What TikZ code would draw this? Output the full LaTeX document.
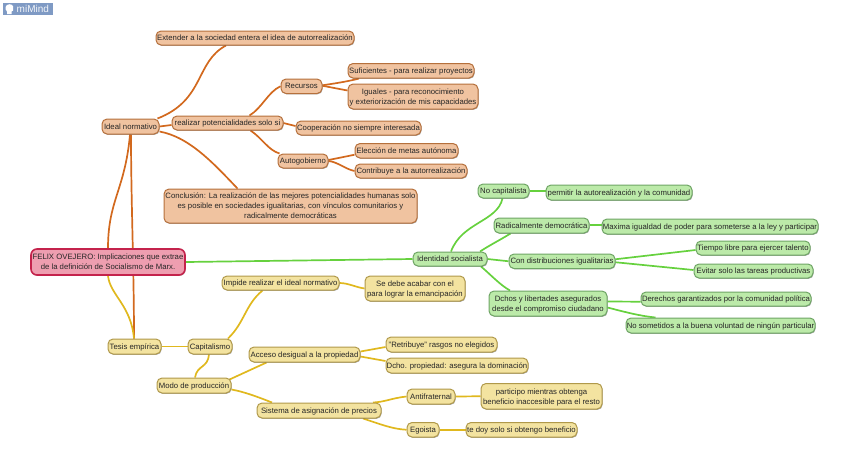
\documentclass[tikz,border=0pt]{standalone}
\usepackage{fontspec}
\setmainfont{Liberation Sans}
\usetikzlibrary{shadows,backgrounds,positioning}
\definecolor{oLine}{HTML}{D2691E}\definecolor{oFill}{HTML}{F0C3A0}\definecolor{oEdge}{HTML}{B5703C}
\definecolor{yLine}{HTML}{E0B81E}\definecolor{yFill}{HTML}{F3E3A0}\definecolor{yEdge}{HTML}{B0994A}
\definecolor{gLine}{HTML}{66D13E}\definecolor{gFill}{HTML}{BCEAA9}\definecolor{gEdge}{HTML}{6FA565}
\definecolor{rFill}{HTML}{EE9EB0}\definecolor{rEdge}{HTML}{C4234C}
\definecolor{logoBg}{HTML}{7F9AC4}
\tikzset{
 nd/.style={rectangle,rounded corners=5pt,inner sep=0pt,line width=1pt,text=black!85,
   font=\fontsize{7.75}{10}\selectfont,drop shadow={shadow xshift=.6pt,shadow yshift=-.8pt,opacity=.35,fill=black}},
 onode/.style={nd,draw=oEdge,fill=oFill},
 ynode/.style={nd,draw=yEdge,fill=yFill},
 gnode/.style={nd,draw=gEdge,fill=gFill},
 rnode/.style={nd,draw=rEdge,fill=rFill,line width=1.6pt,rounded corners=6pt},
 ol/.style={draw=oLine,line width=1.7pt},
 yl/.style={draw=yLine,line width=1.7pt},
 gl/.style={draw=gLine,line width=1.7pt},
}
% \B{style}{name}{x0}{y0}{x1}{y1}{text}
\newcommand{\B}[7]{\node[#1,minimum width={#5pt-#3pt},minimum height={#6pt-#4pt}] (#2) at ({(#3+#5)/2},{(#4+#6)/2}) {\raisebox{-2.74pt}[0pt][0pt]{\begin{tabular}{@{}c@{}}#7\end{tabular}}};}
\begin{document}
\begin{tikzpicture}[x=1pt,y=-1pt]
\useasboundingbox (0,0) rectangle (848,467);
% logo
\node[fill=logoBg,minimum width=50pt,minimum height=12.5pt,inner sep=0pt] (logo) at (28,9.2) {};
\fill[white] (7,14) -- (7,11.5) .. controls (4.5,9.5) and (5,4.2) .. (9.5,4.2) .. controls (13.5,4.2) and (14,8) .. (13.2,10.5) -- (11.5,11.5) -- (11.5,14) -- cycle;
\node[text=white!90!logoBg,font=\fontsize{10}{10}\selectfont,anchor=west,inner sep=0pt] (logotext) at (16.5,9.3) {miMind};
% root
\B{rnode}{felix}{31}{249}{185}{275}{FELIX OVEJERO: Implicaciones que extrae\\de la definición de Socialismo de Marx.}
% orange
\B{onode}{extender}{156}{31}{354}{45}{Extender a la sociedad entera el idea de autorrealización}
\B{onode}{ideal}{102}{119}{159}{134}{Ideal normativo}
\B{onode}{realizar}{172}{116}{283}{130}{realizar potencialidades solo si}
\B{onode}{recursos}{281}{79}{322}{93.5}{Recursos}
\B{onode}{suficientes}{348}{63.5}{474}{78}{Suficientes - para realizar proyectos}
\B{onode}{iguales}{348}{84}{478}{109}{Iguales - para reconocimiento\\y exteriorización de mis capacidades}
\B{onode}{cooperacion}{296}{121}{421}{135}{Cooperación no siempre interesada}
\B{onode}{autogobierno}{278}{154}{328}{168}{Autogobierno}
\B{onode}{eleccion}{355}{143.5}{458}{158}{Elección de metas autónoma}
\B{onode}{contribuye}{355}{164}{467}{178}{Contribuye a la autorrealización}
\B{onode}{conclusion}{164}{189}{417}{223}{Conclusión: La realización de las mejores potencialidades humanas solo\\es posible en sociedades igualitarias, con vínculos comunitarios y\\radicalmente democráticas}
% yellow
\B{ynode}{tesis}{108}{339}{161}{354}{Tesis empírica}
\B{ynode}{capitalismo}{188}{339}{232}{354}{Capitalismo}
\B{ynode}{impide}{222}{276}{339}{290}{Impide realizar el ideal normativo}
\B{ynode}{sedebe}{365}{276}{465}{301}{Se debe acabar con el\\para lograr la emancipación}
\B{ynode}{modo}{157}{378}{231}{393}{Modo de producción}
\B{ynode}{acceso}{249}{347}{360}{362}{Acceso desigual a la propiedad}
\B{ynode}{sistema}{257}{403}{381}{418}{Sistema de asignación de precios}
\B{ynode}{retribuye}{386}{337}{497}{352}{"Retribuye" rasgos no elegidos}
\B{ynode}{dcho}{386}{358}{528}{373}{Dcho. propiedad: asegura la dominación}
\B{ynode}{antifraternal}{407}{389}{455}{404}{Antifraternal}
\B{ynode}{participo}{481}{383.5}{602}{409}{participo mientras obtenga\\beneficio inaccesible para el resto}
\B{ynode}{egoista}{407}{422.5}{439}{437}{Egoista}
\B{ynode}{tedoy}{466}{422.5}{577}{437}{te doy solo si obtengo beneficio}
% green
\B{gnode}{identidad}{413}{252}{487}{266}{Identidad socialista}
\B{gnode}{nocap}{478}{184}{529}{198}{No capitalista}
\B{gnode}{permitir}{546}{185}{692}{200}{permitir la autorealización y la comunidad}
\B{gnode}{radical}{494}{218}{589}{233}{Radicalmente democrática}
\B{gnode}{maxima}{602}{219}{818}{234}{Maxima igualdad de poder para someterse a la ley y participar}
\B{gnode}{condist}{509}{254}{615}{268.5}{Con distribuciones igualitarias}
\B{gnode}{tiempo}{696}{241}{810}{255}{Tiempo libre para ejercer talento}
\B{gnode}{evitar}{694}{264}{813}{278}{Evitar solo las tareas productivas}
\B{gnode}{dchos}{489}{291}{607}{316}{Dchos y libertades asegurados\\desde el compromiso ciudadano}
\B{gnode}{derechos}{641}{292}{811}{306}{Derechos garantizados por la comunidad política}
\B{gnode}{nosometidos}{626}{318}{815}{333}{No sometidos a la buena voluntad de ningún particular}
\begin{scope}[on background layer]
% orange connectors
\draw[ol] (felix.north) .. controls (108,200) and (125,190) .. ([xshift=-0.5pt]ideal.south);
\draw[ol] ([xshift=-0.5pt]tesis.north) .. controls (134,270) and (131,200) .. ([xshift=0.5pt]ideal.south);
\draw[ol] ([xshift=-2pt]ideal.north east) .. controls (205,100) and (195,62) .. ([xshift=-29pt]extender.south);
\draw[ol] (ideal.east) -- ([yshift=-2pt]realizar.west);
\draw[ol] ([yshift=3pt]ideal.south east) .. controls (190,137) and (215,165) .. ([xshift=-53pt]conclusion.north);
\draw[ol] ([xshift=22pt]realizar.north) .. controls (262,108) and (268,92) .. (recursos.west);
\draw[ol] ([xshift=23pt]realizar.south) .. controls (262,138) and (268,150) .. ([xshift=2pt]autogobierno.north west);
\draw[ol] (realizar.east) -- ([yshift=2pt]cooperacion.west);
\draw[ol] ([yshift=1pt]recursos.east) .. controls (335,83.5) and (350,81) .. ([xshift=-52pt]suficientes.south);
\draw[ol] ([yshift=0.5pt]recursos.east) -- ([yshift=6pt]iguales.west);
\draw[ol] ([yshift=1pt]autogobierno.east) -- ([yshift=-4pt]eleccion.west);
\draw[ol] (autogobierno.east) .. controls (338,162) and (345,169) .. (contribuye.west);
% yellow connectors
\draw[yl] (felix.south) .. controls (110,295) and (131,305) .. ([xshift=-0.5pt]tesis.north);
\draw[yl] (tesis.east) -- (capitalismo.west);
\draw[yl] ([xshift=18pt]capitalismo.north) .. controls (245,322) and (245,305) .. ([xshift=-18pt]impide.south);
\draw[yl] ([xshift=-1pt]capitalismo.south) .. controls (208,368) and (197,365) .. ([xshift=1pt]modo.north);
\draw[yl] (impide.east) .. controls (348,283) and (355,287) .. (sedebe.west);
\draw[yl] ([xshift=-2pt,yshift=-2pt]modo.north east) -- ([xshift=-38pt]acceso.south);
\draw[yl] ([yshift=4pt]modo.south east) .. controls (245,392) and (258,397) .. ([xshift=-47pt]sistema.north);
\draw[yl] ([yshift=3pt]acceso.east) -- ([yshift=-2.5pt]retribuye.west);
\draw[yl] ([yshift=-2pt]acceso.east) -- ([yshift=4.5pt]dcho.west);
\draw[yl] ([xshift=54pt]sistema.north) .. controls (385,402) and (392,398) .. (antifraternal.west);
\draw[yl] ([xshift=44pt]sistema.south) .. controls (380,424) and (392,429) .. (egoista.west);
\draw[yl] (antifraternal.east) -- (participo.west);
\draw[yl] (egoista.east) -- (tedoy.west);
% green connectors
\draw[gl] (felix.east) -- (identidad.west);
\draw[gl] ([xshift=1pt]identidad.north) .. controls (462,222) and (497,222) .. ([xshift=-1pt]nocap.south);
\draw[gl] ([xshift=30pt]identidad.north) .. controls (490,245) and (500,240) .. ([xshift=-31pt]radical.south);
\draw[gl] (identidad.east) -- (condist.west);
\draw[gl] ([xshift=31pt]identidad.south) .. controls (490,274) and (500,285) .. ([xshift=-38pt]dchos.north);
\draw[gl] (nocap.east) -- ([yshift=1.5pt]permitir.west);
\draw[gl] ([yshift=0.5pt]radical.east) -- ([yshift=1.5pt]maxima.west);
\draw[gl] ([yshift=2pt]condist.east) -- ([yshift=-2pt]tiempo.west);
\draw[gl] ([yshift=-1pt]condist.east) -- ([yshift=1pt]evitar.west);
\draw[gl] ([yshift=2pt]dchos.east) -- ([yshift=-2.7pt]derechos.west);
\draw[gl] ([yshift=-4pt]dchos.east) .. controls (625,312) and (640,316) .. ([xshift=-65pt]nosometidos.north);
\end{scope}
\end{tikzpicture}
\end{document}
